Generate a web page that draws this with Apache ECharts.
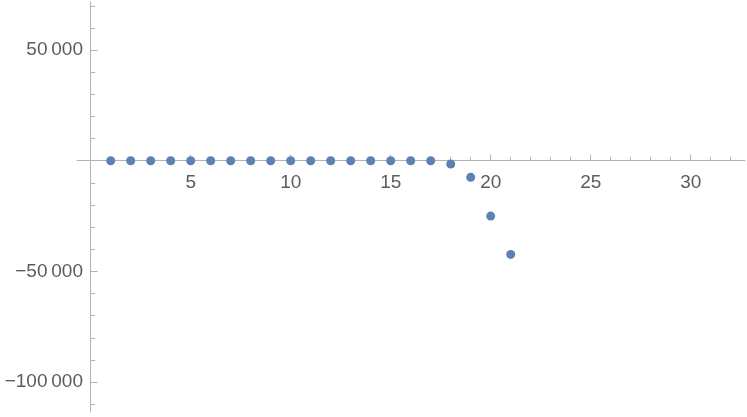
<!DOCTYPE html>
<html>
<head>
<meta charset="utf-8">
<script src="https://cdn.jsdelivr.net/npm/echarts@6/dist/echarts.min.js"></script>
<style>
  html, body { margin: 0; padding: 0; background: #fff; }
  #main { width: 747px; height: 417px; }
</style>
</head>
<body>
<div id="main"></div>
<script>
// points
var xs = [1, 2, 3, 4, 5, 6, 7, 8, 9, 10, 11, 12, 13, 14, 15, 16, 17, 18, 19, 20, 21];
var ys = [0, 0, 0, 0, 0, 0, 0, 0, 0, 0, 0, 0, 0, 0, 0, 0, 0, -1500, -7500, -25000, -42300];

// ticks
var xMajor = [5, 10, 15, 20, 25, 30];
var xMinor = [1, 2, 3, 4, 6, 7, 8, 9, 11, 12, 13, 14, 16, 17, 18, 19, 21, 22, 23, 24, 26, 27, 28, 29, 31, 32];
var yMajor = [-100000, -50000, 50000];
var yMinor = [-110000, -90000, -80000, -70000, -60000, -40000, -30000, -20000, -10000, 10000, 20000, 30000, 40000, 60000, 70000];

var axisGray = "#b3b3b3";
var labelGray = "#5c5c5c";

function fmtNum(v) {
  var s = String(Math.abs(v)).replace(/\B(?=(\d{3})+(?!\d))/g, "\u2009");
  return (v < 0 ? "\u2212" : "") + s;
}

var points = [];
for (var i = 0; i < xs.length; i++) {
  points.push([xs[i], ys[i]]);
}

var myChart = echarts.init(document.getElementById("main"));

var option = {
  animation: false,
  textStyle: { fontFamily: "Liberation Sans, Arial, sans-serif" },
  grid: {
    left: 77,
    top: 2,
    width: 668,
    height: 410,
    outerBoundsMode: "none"
  },
  xAxis: [
    {
      type: "value",
      min: -0.685,
      max: 32.715,
      splitLine: { show: false },
      axisLine: { onZero: true, lineStyle: { color: axisGray, width: 1 } },
      axisTick: { inside: true, length: 6, customValues: xMajor, lineStyle: { color: axisGray } },
      // labels stay at the grid edge, so pull them up to the zero line
      axisLabel: { customValues: xMajor, color: labelGray, fontSize: 19, margin: -239 }
    },
    {
      type: "value",
      position: "bottom",
      min: -0.685,
      max: 32.715,
      splitLine: { show: false },
      axisLine: { show: false, onZero: true, onZeroAxisIndex: 0 },
      axisTick: { inside: true, length: 4, customValues: xMinor, lineStyle: { color: axisGray } },
      axisLabel: { show: false }
    }
  ],
  yAxis: [
    {
      type: "value",
      min: -113500,
      max: 71700,
      splitLine: { show: false },
      axisLine: { show: true, onZero: true, lineStyle: { color: axisGray, width: 1 } },
      axisTick: { show: true, inside: true, length: 7, customValues: yMajor, lineStyle: { color: axisGray } },
      axisLabel: {
        customValues: yMajor,
        color: labelGray,
        fontSize: 19,
        margin: -6,
        formatter: fmtNum
      }
    },
    {
      type: "value",
      position: "left",
      min: -113500,
      max: 71700,
      splitLine: { show: false },
      axisLine: { show: false, onZero: true, onZeroAxisIndex: 0 },
      axisTick: { show: true, inside: true, length: 4.5, customValues: yMinor, lineStyle: { color: axisGray } },
      axisLabel: { show: false }
    }
  ],
  series: [
    {
      type: "scatter",
      xAxisIndex: 0,
      yAxisIndex: 0,
      symbolSize: 9,
      itemStyle: { color: "#5e81b5", opacity: 1 },
      data: points
    }
  ]
};
myChart.setOption(option);
</script>
</body>
</html>
